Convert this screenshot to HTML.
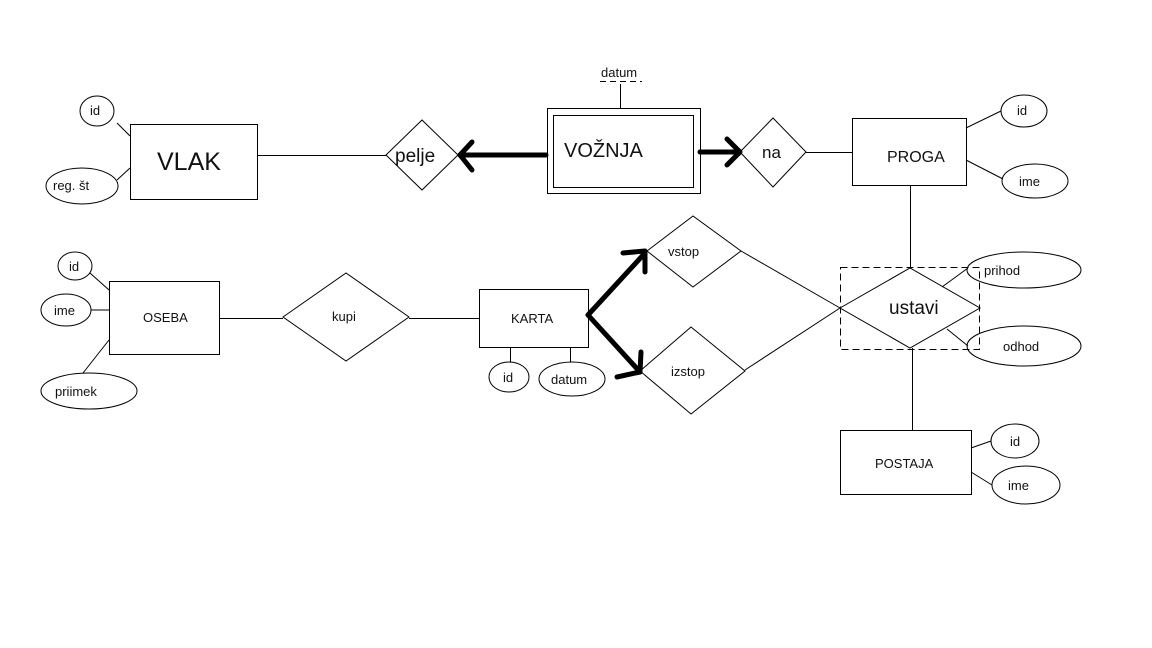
<!DOCTYPE html>
<html><head><meta charset="utf-8"><style>
html,body{margin:0;padding:0;background:#fff;width:1152px;height:648px;overflow:hidden}
svg{display:block}
text{font-family:"Liberation Sans",sans-serif;fill:#111}
.s{font-size:13px}
</style></head><body>
<svg width="1152" height="648" viewBox="0 0 1152 648" xmlns="http://www.w3.org/2000/svg">
<g fill="none" stroke="#000" stroke-width="1">
<!-- VLAK -->
<rect x="130.5" y="124.5" width="127" height="75" fill="#fff"/>
<ellipse cx="97" cy="111" rx="17" ry="15"/>
<ellipse cx="82" cy="186" rx="36" ry="18"/>
<line x1="117" y1="123" x2="130" y2="136"/>
<line x1="117" y1="180" x2="130" y2="168"/>
<line x1="257" y1="155.5" x2="386" y2="155.5"/>
<polygon points="386,155 422,120 458,155 422,190"/>
<!-- VOZNJA -->
<rect x="547.5" y="108.5" width="153" height="85"/>
<rect x="553.5" y="115.5" width="140" height="72"/>
<line x1="620.5" y1="84" x2="620.5" y2="108"/>
<line x1="600" y1="81.5" x2="642" y2="81.5" stroke-dasharray="6,4"/>
<polygon points="740,152 773,118 806,152 773,187"/>
<line x1="806" y1="152.5" x2="852" y2="152.5"/>
<rect x="852.5" y="118.5" width="114" height="67"/>
<ellipse cx="1024" cy="111" rx="23" ry="16"/>
<ellipse cx="1035" cy="181" rx="33" ry="17"/>
<line x1="966" y1="128" x2="1001" y2="111"/>
<line x1="966" y1="160" x2="1003" y2="179"/>
<line x1="910.5" y1="185" x2="910.5" y2="268"/>
<!-- ustavi -->
<polygon points="840,308 910,268 980,308 910,348"/>
<rect x="840.5" y="267.5" width="139" height="82" stroke-dasharray="7,4"/>
<ellipse cx="1024" cy="270" rx="57" ry="18"/>
<ellipse cx="1024" cy="346" rx="57" ry="20"/>
<line x1="942" y1="287" x2="968" y2="268"/>
<line x1="947" y1="329" x2="968" y2="346"/>
<line x1="912.5" y1="348" x2="912.5" y2="430"/>
<rect x="840.5" y="430.5" width="131" height="64"/>
<ellipse cx="1015" cy="441" rx="24" ry="17"/>
<ellipse cx="1026" cy="485" rx="34" ry="19"/>
<line x1="971" y1="448" x2="991" y2="441"/>
<line x1="971" y1="472" x2="992" y2="485"/>
<!-- vstop izstop -->
<polygon points="647,251 693,216 741,251 693,287"/>
<polygon points="640,371 691,327 745,371 691,414"/>
<line x1="741" y1="251" x2="840" y2="308"/>
<line x1="745" y1="370" x2="840" y2="308"/>
<!-- KARTA -->
<rect x="479.5" y="289.5" width="109" height="58"/>
<ellipse cx="509" cy="377" rx="20" ry="15"/>
<ellipse cx="572" cy="379" rx="33" ry="17"/>
<line x1="510.5" y1="347" x2="510.5" y2="362"/>
<line x1="570.5" y1="347" x2="570.5" y2="362"/>
<line x1="409" y1="318.5" x2="479" y2="318.5"/>
<polygon points="283,317 346,273 409,317 346,361"/>
<line x1="219" y1="318.5" x2="283" y2="318.5"/>
<!-- OSEBA -->
<rect x="109.5" y="281.5" width="110" height="73"/>
<ellipse cx="75" cy="266" rx="17" ry="14"/>
<ellipse cx="66" cy="310" rx="25" ry="16"/>
<ellipse cx="89" cy="391" rx="48" ry="18"/>
<line x1="90" y1="273" x2="109" y2="290"/>
<line x1="91" y1="310" x2="109" y2="310"/>
<line x1="83" y1="373" x2="109" y2="340"/>
</g>
<!-- thick arrows -->
<g fill="none" stroke="#000" stroke-width="5" stroke-linecap="round" stroke-linejoin="round">
<line x1="546" y1="155" x2="460" y2="155"/>
<polyline points="472,142 460,155 472,170"/>
<line x1="700" y1="152" x2="738" y2="152"/>
<polyline points="727,139 740,152 727,165"/>
<polyline points="645,253 588,315 640,372"/>
<polyline points="623,253 645,251 645,272"/>
<polyline points="617,377 640,372 641,352"/>
</g>
<text x="157" y="170" font-size="25">VLAK</text>
<text x="90" y="115" class="s">id</text>
<text x="53" y="190" class="s">reg. št</text>
<text x="395" y="162" font-size="19">pelje</text>
<text x="564" y="157" font-size="20">VOŽNJA</text>
<text x="601" y="77" class="s">datum</text>
<text x="762" y="158" font-size="17">na</text>
<text x="887" y="162" font-size="16">PROGA</text>
<text x="1017" y="115" class="s">id</text>
<text x="1019" y="186" class="s">ime</text>
<text x="889" y="314" font-size="19">ustavi</text>
<text x="984" y="275" class="s">prihod</text>
<text x="1003" y="351" class="s">odhod</text>
<text x="875" y="468" class="s">POSTAJA</text>
<text x="1010" y="446" class="s">id</text>
<text x="1008" y="490" class="s">ime</text>
<text x="668" y="256" class="s">vstop</text>
<text x="671" y="376" class="s">izstop</text>
<text x="511" y="323" class="s">KARTA</text>
<text x="503" y="382" class="s">id</text>
<text x="551" y="384" class="s">datum</text>
<text x="332" y="321" class="s">kupi</text>
<text x="143" y="322" class="s">OSEBA</text>
<text x="69" y="271" class="s">id</text>
<text x="54" y="315" class="s">ime</text>
<text x="55" y="396" class="s">priimek</text>
</svg>
</body></html>
